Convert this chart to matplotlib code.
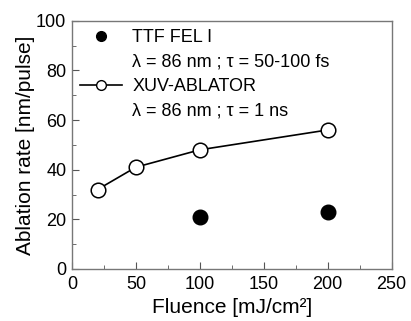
import matplotlib
matplotlib.use("Agg")
import matplotlib.pyplot as plt
from matplotlib.ticker import MultipleLocator
from matplotlib.lines import Line2D

plt.rcParams['font.family'] = ['Liberation Sans', 'DejaVu Sans']

fel_x = [100, 200]
fel_y = [21, 23]
xuv_x = [20, 50, 100, 200]
xuv_y = [32, 41, 48, 56]
fel_label = 'TTF FEL I'
fel_info = 'λ = 86 nm ; τ = 50-100 fs'
xuv_label = 'XUV-ABLATOR'
xuv_info = 'λ = 86 nm ; τ = 1 ns'

fig = plt.figure(figsize=(4.11, 3.21), dpi=100)
ax = fig.add_axes([0.175, 0.162, 0.778, 0.7735])

h1, = ax.plot(fel_x, fel_y, 'o', color='black', markersize=10.5, linestyle='none')
h2, = ax.plot(xuv_x, xuv_y, '-o', color='black', markerfacecolor='white',
              markeredgecolor='black', markersize=10.5, linewidth=1.2, markeredgewidth=1.1)

lh1 = Line2D([], [], marker='o', color='black', markersize=7, linestyle='none')
lh2 = Line2D([], [], marker='o', color='black', markerfacecolor='white',
             markeredgecolor='black', markersize=7, linewidth=1.2, markeredgewidth=1.0)
blank = Line2D([], [], linestyle='none', marker=None)

ax.set_xlim(0, 250)
ax.set_ylim(0, 100)
ax.xaxis.set_major_locator(MultipleLocator(50))
ax.xaxis.set_minor_locator(MultipleLocator(25))
ax.yaxis.set_major_locator(MultipleLocator(20))
ax.yaxis.set_minor_locator(MultipleLocator(10))
ax.tick_params(which='both', direction='in', top=False, right=False,
               labelsize=13, color='#555555')
ax.tick_params(axis='x', pad=5)
ax.tick_params(axis='y', pad=4)
ax.tick_params(which='major', length=5)
ax.tick_params(which='minor', length=3)
for s in ax.spines.values():
    s.set_color('#777777')
    s.set_linewidth(1.0)

ax.set_xlabel('Fluence [mJ/cm²]', fontsize=15, labelpad=4)
ax.set_ylabel('Ablation rate [nm/pulse]', fontsize=15, labelpad=1)

ax.legend([lh1, blank, lh2, blank], [fel_label, fel_info, xuv_label, xuv_info],
          loc='upper left', frameon=False, fontsize=13, handlelength=2.3,
          borderaxespad=0.0, borderpad=0.45, labelspacing=0.42, handletextpad=0.6,
          bbox_to_anchor=(0.0, 1.0))

fig.savefig('out.png', dpi=100)
